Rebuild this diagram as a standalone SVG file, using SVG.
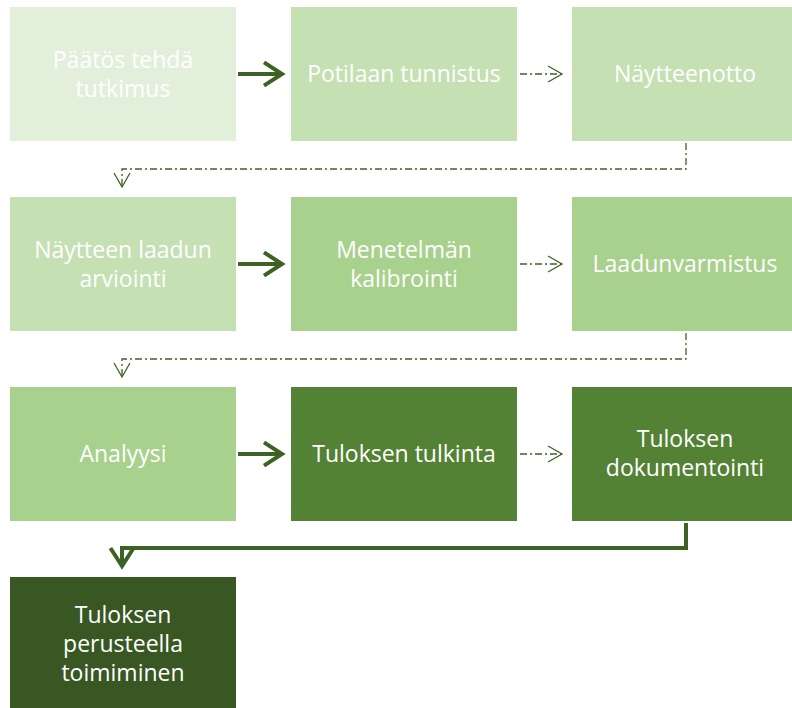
<svg xmlns="http://www.w3.org/2000/svg" width="792" height="708" viewBox="0 0 792 708">
<style>
.t{font-family:"Open Sans","Noto Sans","Liberation Sans",sans-serif;font-size:23px;fill:#ffffff;text-anchor:middle}
.c1{fill:#E2EFDA}.c2{fill:#C5E0B3}.c3{fill:#A9D18E}.c4{fill:#548235}.c5{fill:#385723}
.solid{fill:none;stroke:#3E6124;stroke-width:4}
.dash{fill:none;stroke:#3E6124;stroke-width:1.3;stroke-dasharray:7 3 2 3}
</style>
<defs>
<marker id="hs" markerWidth="7" markerHeight="7" refX="5" refY="3.5" orient="auto" markerUnits="strokeWidth"><path d="M0.5,0.6 L5,3.5 L0.5,6.4" fill="none" stroke="#3E6124" stroke-width="1"/></marker>
<marker id="hd" markerWidth="18" markerHeight="18" refX="16" refY="9" orient="auto" markerUnits="userSpaceOnUse"><path d="M2,1 L16,9 L2,17" fill="none" stroke="#3E6124" stroke-width="1.3"/></marker>
</defs>
<g id="n1"><rect class="c1" x="10" y="7" width="226" height="134"/><text class="t" x="123" y="68">Päätös tehdä</text><text class="t" x="123" y="97">tutkimus</text></g>
<g id="n2"><rect class="c2" x="291" y="7" width="226" height="134"/><text class="t" x="404" y="82">Potilaan tunnistus</text></g>
<g id="n3"><rect class="c2" x="572" y="7" width="226" height="134"/><text class="t" x="685" y="82">Näytteenotto</text></g>
<g id="n4"><rect class="c2" x="10" y="197" width="226" height="134"/><text class="t" x="123" y="258">Näytteen laadun</text><text class="t" x="123" y="287">arviointi</text></g>
<g id="n5"><rect class="c3" x="291" y="197" width="226" height="134"/><text class="t" x="404" y="258">Menetelmän</text><text class="t" x="404" y="287">kalibrointi</text></g>
<g id="n6"><rect class="c3" x="572" y="197" width="226" height="134"/><text class="t" x="685" y="272">Laadunvarmistus</text></g>
<g id="n7"><rect class="c3" x="10" y="387" width="226" height="134"/><text class="t" x="123" y="462">Analyysi</text></g>
<g id="n8"><rect class="c4" x="291" y="387" width="226" height="134"/><text class="t" x="404" y="462">Tuloksen tulkinta</text></g>
<g id="n9"><rect class="c4" x="572" y="387" width="226" height="134"/><text class="t" x="685" y="447">Tuloksen</text><text class="t" x="685" y="476">dokumentointi</text></g>
<g id="n10"><rect class="c5" x="10" y="577" width="226" height="134"/><text class="t" x="123" y="623">Tuloksen</text><text class="t" x="123" y="652">perusteella</text><text class="t" x="123" y="681">toimiminen</text></g>
<g id="connectors">
<path class="solid" d="M238,74 H282" marker-end="url(#hs)"/>
<path class="dash" d="M520,74 H562" marker-end="url(#hd)"/>
<path class="dash" d="M686,143 V169 H122 V187" marker-end="url(#hd)"/>
<path class="solid" d="M238,264 H282" marker-end="url(#hs)"/>
<path class="dash" d="M520,264 H562" marker-end="url(#hd)"/>
<path class="dash" d="M686,333 V359 H122 V377" marker-end="url(#hd)"/>
<path class="solid" d="M238,454 H282" marker-end="url(#hs)"/>
<path class="dash" d="M520,454 H562" marker-end="url(#hd)"/>
<path class="solid" d="M686,523 V548 H122 V566" marker-end="url(#hs)"/>
</g>
</svg>
